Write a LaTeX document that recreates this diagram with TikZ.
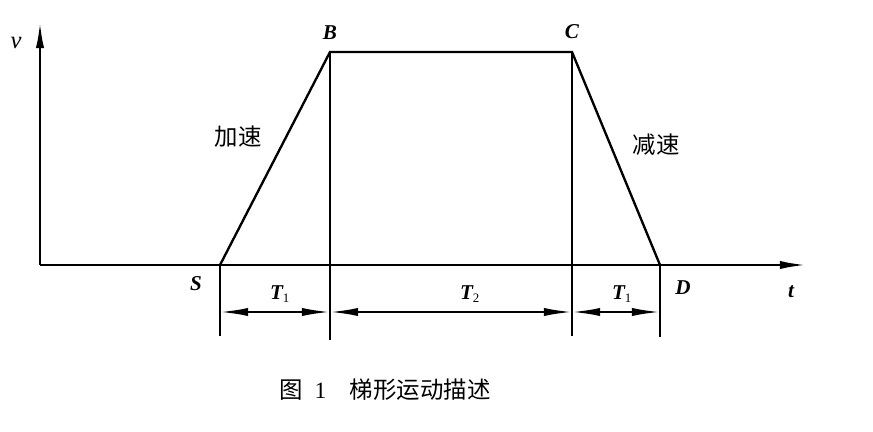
\documentclass[tikz,border=0pt]{standalone}
\usepackage{fontspec}
\setmainfont{Liberation Serif}
\newfontfamily\cjkfont{Noto Sans CJK SC}
\usetikzlibrary{positioning,arrows.meta}

\begin{document}
\begin{tikzpicture}[
		x=0.03cm, y=-0.03cm,
		font=\fontsize{15}{18}\selectfont,
		>={Latex[length=24pt,width=7pt]},
		line join=miter,
		every path/.style={draw=black, line width=2pt}
		]
		% Styles
		\tikzset{
			lbl/.style={draw=none, inner sep=0pt, font=\fontsize{18}{20}\selectfont\bfseries\itshape},
			cjk/.style={draw=none, inner sep=0pt, font=\fontsize{20}{22}\selectfont\cjkfont},
			axis/.style={->, line width=2.5pt},
			dim/.style={<->, line width=1.8pt}
		}
		\newcommand{\sub}[1]{\textsubscript{\mdseries\upshape\fontsize{11}{12}\selectfont #1}}
		\useasboundingbox[draw=none] (0,0) rectangle (873,432);
		
		% ===== Points =====
		\coordinate (O)  at (40,265);
		\coordinate (Vt) at (40,20);
		\coordinate (Tt) at (808,265);
		\coordinate (S)  at (220,265);
		\coordinate (B)  at (330,52);
		\coordinate (C)  at (572,52);
		\coordinate (D)  at (660,265);
		\coordinate (Sb) at (220,336);
		\coordinate (Bb) at (330,340);
		\coordinate (Cb) at (572,336);
		\coordinate (Db) at (660,337);
		\coordinate (S1) at (220,312);
		\coordinate (B1) at (330,312);
		\coordinate (C1) at (572,312);
		\coordinate (D1) at (660,312);
		
		% ===== Axes =====
		\draw[axis] (O) -- (Vt);
		\draw[axis] (O) -- (Tt);
		
		% ===== Trapezoid =====
		\draw (S) -- (B) -- (C) -- (D);
		\draw (S) -- (Sb);
		\draw (B) -- (Bb);
		\draw (C) -- (Cb);
		\draw (D) -- (Db);
		
		% ===== Dimensions =====
		\draw[dim] (S1) -- (B1);
		\draw[dim] (B1) -- (C1);
		\draw[dim] (C1) -- (D1);
		
		% ===== Labels =====
		\node[lbl, font=\fontsize{21}{22}\selectfont\itshape] (lv) at (16,43) {v};
		\node[lbl] (lt) at (791,292) {t};
		\node[lbl] (lS) at (196,284) {S};
		\node[lbl] (lD) at (683,288) {D};
		\node[lbl] (lB) at (330,33) {B};
		\node[lbl] (lC) at (572,32) {C};
		\node[lbl] (T1a) at (280,294) {T\sub{1}};
		\node[lbl] (T2)  at (470,294) {T\sub{2}};
		\node[lbl] (T1b) at (622,294) {T\sub{1}};
		\node[cjk] (acc) at (238,137) {加速};
		\node[cjk] (dec) at (656,145) {减速};
		
		% caption
		\node[draw=none, inner sep=0pt, font=\fontsize{20}{22}\selectfont] (cap) at (385,390)
			{{\cjkfont 图}\enspace 1\quad {\cjkfont 梯形运动描述}};
		
	\end{tikzpicture}
\end{document}
